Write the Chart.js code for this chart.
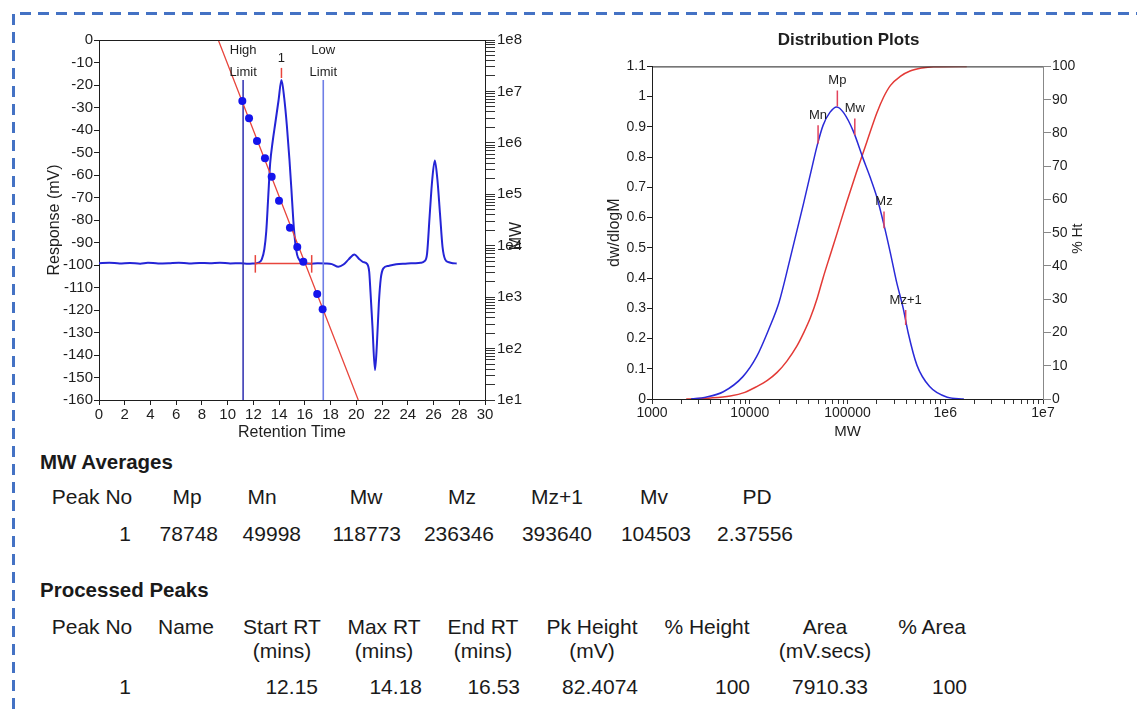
<!DOCTYPE html>
<html>
<head>
<meta charset="utf-8">
<script src="https://cdn.jsdelivr.net/npm/chart.js@4.4.0/dist/chart.umd.min.js"></script>
<style>
body { margin: 0; background: #fff; width: 1137px; height: 709px; overflow: hidden; position: relative;
       font-family: "Liberation Sans", Arial, sans-serif; color: #1a1a1a; }
#frame { position: absolute; left: 0; top: 0; }
#c1 { position: absolute; left: 0; top: 0; }
#c2 { position: absolute; left: 560px; top: 0; }
.t { position: absolute; white-space: nowrap; font-size: 21px; line-height: 24px; width: 200px; }
.h { font-weight: bold; font-size: 20.5px; width: auto; }
</style>
</head>
<body>
<svg id="frame" width="1137" height="709"><path d="M13.5 709 V13.5 H1137" fill="none" stroke="#4472c4" stroke-width="3" stroke-dasharray="11 7"/></svg>
<canvas id="c1" width="560" height="450"></canvas>
<canvas id="c2" width="577" height="450"></canvas>
<div id="tables"></div>
<script>
// chromatogram trace (retention time, mV)
var rt = [0, 0.8, 1.6, 2.4, 3.2, 3.8, 4.6, 5.4, 6.2, 7.0, 7.8, 8.6, 9.4, 10.2, 11.0, 11.6, 12.0, 12.4,
    12.65, 12.85, 13.0, 13.15, 13.3, 13.5, 13.7, 13.95, 14.18, 14.4, 14.6, 14.8, 14.95, 15.1, 15.25, 15.4,
    15.6, 15.9, 16.4, 17.0, 17.6, 18.1, 18.6, 19.0, 19.4, 19.85, 20.2, 20.5, 20.85, 21.0, 21.1, 21.25,
    21.45, 21.6, 21.75, 21.9, 22.1, 22.5, 23.1, 23.8, 24.5, 25.0, 25.3, 25.5, 25.7, 25.9, 26.1, 26.3,
    26.5, 26.7, 26.9, 27.2, 27.5, 27.8];
var response = [-99.2, -99.0, -99.3, -99.1, -99.4, -99.0, -99.3, -99.2, -99.0, -99.3, -99.1, -99.2, -99.0,
    -99.3, -99.2, -99.4, -99.3, -99.0, -97.5, -93, -85, -70, -55, -45, -37, -27, -17.8, -26, -38, -53, -66,
    -80, -90, -95.5, -98, -99.2, -99.4, -99.2, -99.3, -99.6, -100.8, -99.8, -97.5, -95.3, -97.2, -98.6,
    -99.6, -103, -112, -127, -146.7, -135, -117, -106, -101.5, -100.4, -99.7, -99.4, -99.2, -99.0, -98.3,
    -94.8, -78, -62, -53.5, -62, -77, -92, -97.5, -98.8, -99.2, -99.3];

// calibration standards (retention time, MW)
var calRt = [11.14, 11.66, 12.28, 12.90, 13.42, 13.99, 14.84, 15.41, 15.88, 16.96, 17.38];
var calMw = [6500000, 3000000, 1090000, 500000, 220000, 75000, 22400, 9400, 4900, 1150, 580];
var calLineRt = [9.27, 20.15];
var calLineMw = [100000000, 10];

// limits and peak
var limitNames = ['High', 'Low'];
var limitRt = [11.2, 17.43];
var limitTop = -17.8, limitBottom = -160;
var peakLabel = '1';
var peakStart = 12.15, peakMax = 14.18, peakEnd = 16.53;
var baselineMv = -99.3;
var peakMarkMv = [-12.4, -16.9];
var baseTickMv = [-95.6, -103.4];

// log axis ticks (left chart)
var mwDecades = [10, 100, 1000, 10000, 100000, 1000000, 10000000, 100000000];
var mwDecadeLabels = ['1e1', '1e2', '1e3', '1e4', '1e5', '1e6', '1e7', '1e8'];

// distribution plot
var distMw = [2512, 3548, 5370, 8511, 11750, 15850, 19950, 25700, 35480, 42660, 48980, 56230, 66070, 77620,
    91200, 114800, 144500, 169800, 199500, 234400, 275400, 316200, 371500, 416900, 512900, 691800,
    1047000, 1549000];
var distDw = [0, 0.006, 0.024, 0.074, 0.14, 0.235, 0.32, 0.46, 0.646, 0.757, 0.839, 0.905, 0.948, 0.966,
    0.947, 0.885, 0.795, 0.735, 0.668, 0.58, 0.481, 0.39, 0.30, 0.22, 0.112, 0.041, 0.006, 0];
var cumMw = [2240, 3980, 6310, 8910, 11750, 15140, 19050, 23990, 30200, 35480, 41690, 48980, 56230, 66070,
    77620, 97720, 123000, 158500, 199500, 234400, 275400, 346700, 436500, 575400, 758600, 1660000];
var cumHt = [0, 0.3, 0.9, 2.0, 3.7, 5.6, 8.0, 11.4, 15.8, 19.8, 24.4, 30.3, 36.4, 43.0, 49.5, 59.0, 68.0,
    77.5, 86.0, 90.8, 94.3, 97.0, 98.6, 99.5, 99.9, 100];
var markerNames = ['Mn', 'Mp', 'Mw', 'Mz', 'Mz+1'];
var markerMw = [49998, 78748, 118773, 236346, 393640];
var markerTop = [0.905, 1.02, 0.928, 0.62, 0.294];
var markerBottom = [0.845, 0.967, 0.872, 0.565, 0.245];
var distDecades = [1000, 10000, 100000, 1000000, 10000000];
var distDecadeLabels = ['1000', '10000', '100000', '1e6', '1e7'];

// tables
var mwAvgHeaders = ['Peak No', 'Mp', 'Mn', 'Mw', 'Mz', 'Mz+1', 'Mv', 'PD'];
var mwAvgValues = ['1', '78748', '49998', '118773', '236346', '393640', '104503', '2.37556'];
var peakHeaders = [['Peak No'], ['Name'], ['Start RT', '(mins)'], ['Max RT', '(mins)'], ['End RT', '(mins)'],
    ['Pk Height', '(mV)'], ['% Height'], ['Area', '(mV.secs)'], ['% Area']];
var peakValues = ['1', '', '12.15', '14.18', '16.53', '82.4074', '100', '7910.33', '100'];

var fam = '"Liberation Sans", Arial, sans-serif';
var ink = '#1e1e1e';

function pts(xs, ys) {
    return xs.map(function (x, i) { return {x: x, y: ys[i]}; });
}
function logTicks(decades) {
    var out = [];
    decades.forEach(function (d, i) {
        var n = i < decades.length - 1 ? 9 : 1;
        for (var k = 1; k <= n; k++) out.push({value: d * k});
    });
    return out;
}
function decadeLabel(decades, labels) {
    return function (v) {
        var i = decades.indexOf(v);
        return i >= 0 ? labels[i] : '';
    };
}
function fixWidth(w) { return function (s) { s.width = w; }; }
function fixHeight(h) { return function (s) { s.height = h; }; }
function line(data, color, width, axis) {
    return {data: data, showLine: true, borderColor: color, borderWidth: width, pointRadius: 0,
        yAxisID: axis || 'y', cubicInterpolationMode: 'monotone'};
}
function topEdge(color) {
    return {
        id: 'topEdge',
        afterDraw: function (chart) {
            var a = chart.chartArea, ctx = chart.ctx;
            ctx.save();
            ctx.strokeStyle = color;
            ctx.lineWidth = 1;
            ctx.beginPath();
            ctx.moveTo(a.left, a.top + 0.5);
            ctx.lineTo(a.right, a.top + 0.5);
            ctx.stroke();
            ctx.restore();
        }
    };
}
// right-hand axis titles, rotated like the left ones
function sideTitle(text, x, dy, size) {
    return {
        id: 'sideTitle',
        afterDraw: function (chart) {
            var a = chart.chartArea, ctx = chart.ctx;
            ctx.save();
            ctx.font = size + 'px ' + fam;
            ctx.fillStyle = ink;
            ctx.textAlign = 'center';
            ctx.textBaseline = 'middle';
            ctx.translate(x, (a.top + a.bottom) / 2 + dy);
            ctx.rotate(-Math.PI / 2);
            ctx.fillText(text, 0, 0);
            ctx.restore();
        }
    };
}

// ---------- chromatogram ----------
var limitLabels = {
    id: 'limitLabels',
    afterDatasetsDraw: function (chart) {
        var ctx = chart.ctx, x = chart.scales.x, top = chart.chartArea.top;
        ctx.save();
        ctx.font = '13px ' + fam;
        ctx.fillStyle = ink;
        ctx.textAlign = 'center';
        ctx.textBaseline = 'middle';
        limitNames.forEach(function (name, i) {
            var px = x.getPixelForValue(limitRt[i]);
            ctx.fillText(name, px, top + 10);
            ctx.fillText('Limit', px, top + 32);
        });
        ctx.fillText(peakLabel, x.getPixelForValue(peakMax), top + 18);
        ctx.restore();
    }
};

var chromData = [
    {data: pts(calRt, calMw), yAxisID: 'mw', pointRadius: 4, pointBackgroundColor: '#1414ec',
        pointBorderWidth: 0, showLine: false},
    line(pts([peakMax, peakMax], peakMarkMv), '#e8453c', 1.5),
    line(pts([peakStart, peakStart], baseTickMv), '#e8453c', 1.5),
    line(pts([peakEnd, peakEnd], baseTickMv), '#e8453c', 1.5),
    line(pts([peakStart, peakEnd], [baselineMv, baselineMv]), '#e8453c', 1.5),
    line(pts(calLineRt, calLineMw), '#e8453c', 1.3, 'mw'),
    line(pts([limitRt[0], limitRt[0]], [limitTop, limitBottom]), '#3a3ab4', 1.6),
    line(pts([limitRt[1], limitRt[1]], [limitTop, limitBottom]), '#6f7ee6', 1.6),
    line(pts(rt, response), '#2424d6', 2)
];

new Chart(document.getElementById('c1'), {
    type: 'scatter',
    data: {datasets: chromData},
    options: {
        responsive: false,
        animation: false,
        layout: {padding: {top: 40, left: 0, right: 0, bottom: 0}},
        plugins: {legend: {display: false}, tooltip: {enabled: false}},
        scales: {
            x: {
                type: 'linear', min: 0, max: 30,
                afterFit: fixHeight(50),
                ticks: {stepSize: 2, autoSkip: false, maxRotation: 0, padding: 1, color: ink,
                    font: {family: fam, size: 15}},
                grid: {drawOnChartArea: false, tickLength: 5, color: ink},
                border: {display: true, color: ink},
                title: {display: true, text: 'Retention Time', color: ink, font: {family: fam, size: 16},
                    padding: {top: 0, bottom: 8}}
            },
            y: {
                type: 'linear', position: 'left', min: -160, max: 0,
                afterFit: fixWidth(99),
                ticks: {stepSize: 10, autoSkip: false, padding: 1, color: ink, font: {family: fam, size: 15}},
                grid: {drawOnChartArea: false, tickLength: 5, color: ink},
                border: {display: true, color: ink},
                title: {display: true, text: 'Response (mV)', color: ink, font: {family: fam, size: 16},
                    padding: {top: 45, bottom: 0}}
            },
            mw: {
                type: 'logarithmic', position: 'right', min: 10, max: 100000000,
                afterFit: fixWidth(75),
                afterBuildTicks: function (s) { s.ticks = logTicks(mwDecades); },
                ticks: {autoSkip: false, padding: 2, color: ink, font: {family: fam, size: 15},
                    callback: decadeLabel(mwDecades, mwDecadeLabels)},
                grid: {drawOnChartArea: false, tickLength: 10, color: '#333'},
                border: {display: true, color: ink}
            }
        }
    },
    plugins: [topEdge(ink), limitLabels, sideTitle('MW', 517, 16, 16)]
});

// ---------- distribution plots ----------
var markerLabels = {
    id: 'markerLabels',
    afterDatasetsDraw: function (chart) {
        var ctx = chart.ctx, x = chart.scales.x, y = chart.scales.y;
        ctx.save();
        ctx.font = '13px ' + fam;
        ctx.fillStyle = ink;
        ctx.textAlign = 'center';
        ctx.textBaseline = 'middle';
        markerNames.forEach(function (name, i) {
            ctx.fillText(name, x.getPixelForValue(markerMw[i]), y.getPixelForValue(markerTop[i]) - 10);
        });
        ctx.restore();
    }
};

var distData = markerMw.map(function (m, i) {
    return line(pts([m, m], [markerTop[i], markerBottom[i]]), '#e2435c', 1.5);
});
distData.push(line(pts(distMw, distDw), '#2a2ad8', 1.5));
distData.push(line(pts(cumMw, cumHt), '#e33a36', 1.5, 'ht'));

new Chart(document.getElementById('c2'), {
    type: 'scatter',
    data: {datasets: distData},
    options: {
        responsive: false,
        animation: false,
        layout: {padding: 0},
        plugins: {
            legend: {display: false},
            tooltip: {enabled: false},
            title: {display: true, text: 'Distribution Plots', color: ink,
                font: {family: fam, size: 17, weight: 'bold'}, padding: {top: 30, bottom: 16}}
        },
        scales: {
            x: {
                type: 'logarithmic', min: 1000, max: 10000000,
                afterFit: fixHeight(51),
                afterBuildTicks: function (s) { s.ticks = logTicks(distDecades); },
                ticks: {autoSkip: false, maxRotation: 0, padding: 1, color: ink, font: {family: fam, size: 14},
                    callback: decadeLabel(distDecades, distDecadeLabels)},
                grid: {drawOnChartArea: false, tickLength: 5, color: '#333'},
                border: {display: true, color: ink},
                title: {display: true, text: 'MW', color: ink, font: {family: fam, size: 15},
                    padding: {top: 0, bottom: 9}}
            },
            y: {
                type: 'linear', position: 'left', min: 0, max: 1.1,
                afterFit: fixWidth(92),
                ticks: {stepSize: 0.1, autoSkip: false, padding: 1, color: ink, font: {family: fam, size: 14},
                    callback: function (v) { return String(Math.round(v * 10) / 10); }},
                grid: {drawOnChartArea: false, tickLength: 5, color: ink},
                border: {display: true, color: ink},
                title: {display: true, text: 'dw/dlogM', color: ink, font: {family: fam, size: 16},
                    padding: {top: 45, bottom: 0}}
            },
            ht: {
                type: 'linear', position: 'right', min: 0, max: 100,
                afterFit: fixWidth(94),
                ticks: {stepSize: 10, autoSkip: false, padding: 1, color: ink, font: {family: fam, size: 14}},
                grid: {drawOnChartArea: false, tickLength: 8, color: '#888'},
                border: {display: true, color: '#888'}
            }
        }
    },
    plugins: [topEdge(ink), markerLabels, sideTitle('% Ht', 518, 6, 14)]
});

// ---------- tables ----------
var tables = document.getElementById('tables');
function put(text, x, yc, cls, align) {
    var el = document.createElement('div');
    el.className = 't' + (cls ? ' ' + cls : '');
    el.textContent = text;
    el.style.top = (yc - 12) + 'px';
    if (align === 'center') { el.style.left = (x - 100) + 'px'; el.style.textAlign = 'center'; }
    else if (align === 'right') { el.style.left = (x - 200) + 'px'; el.style.textAlign = 'right'; }
    else { el.style.left = x + 'px'; }
    tables.appendChild(el);
}
var mwHeadCenters = [92, 187, 262, 366, 462, 557, 654, 757];
var mwValRight = [131, 218, 301, 401, 494, 592, 691, 793];
put('MW Averages', 40, 462, 'h');
mwAvgHeaders.forEach(function (h, i) { put(h, mwHeadCenters[i], 497, '', 'center'); });
mwAvgValues.forEach(function (v, i) { put(v, mwValRight[i], 534, '', 'right'); });

var ppHeadCenters = [92, 186, 282, 384, 483, 592, 707, 825, 932];
var ppValRight = [131, 215, 318, 422, 520, 638, 750, 868, 967];
put('Processed Peaks', 40, 590, 'h');
peakHeaders.forEach(function (lines, i) {
    lines.forEach(function (l, j) { put(l, ppHeadCenters[i], 627 + j * 24, '', 'center'); });
});
peakValues.forEach(function (v, i) { if (v) put(v, ppValRight[i], 687, '', 'right'); });
</script>
</body>
</html>
